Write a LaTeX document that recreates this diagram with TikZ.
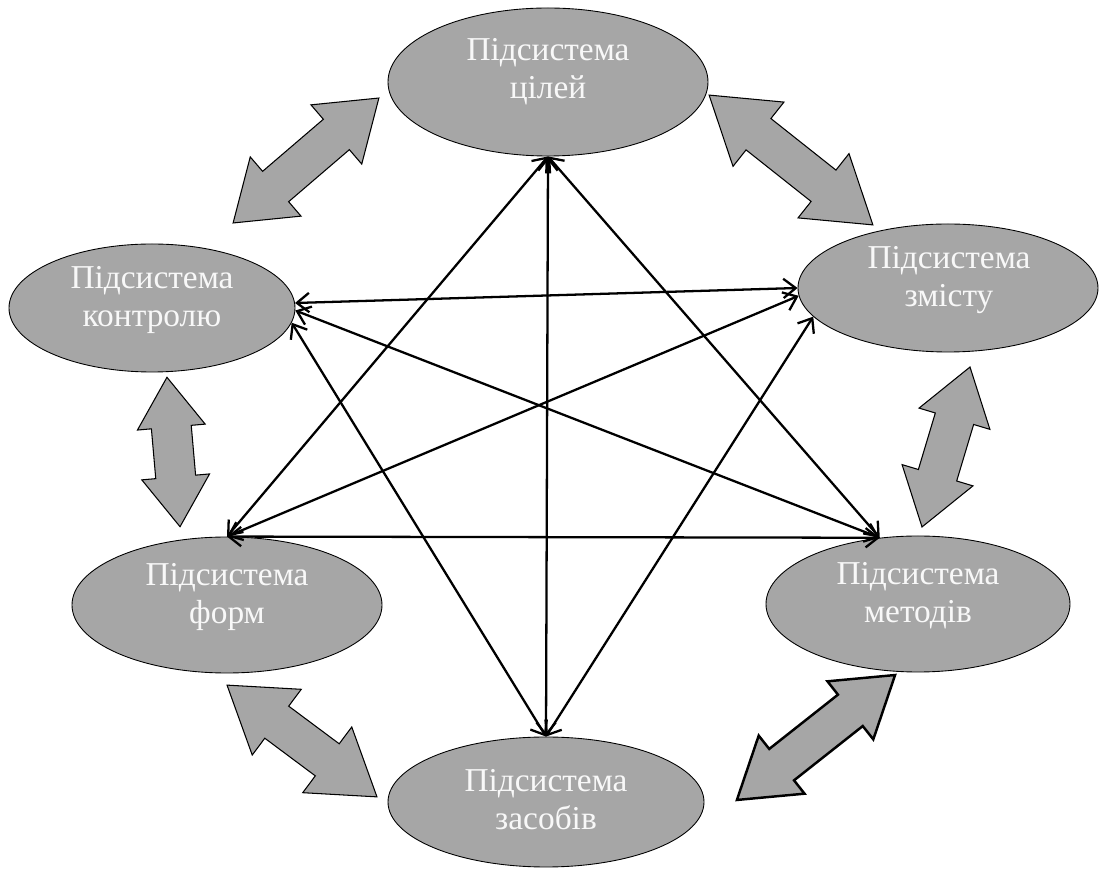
\documentclass[tikz,border=0pt]{standalone}
\usepackage{fontspec}
\setmainfont{Liberation Serif}
\usetikzlibrary{shapes.geometric,arrows.meta}

\definecolor{subfill}{RGB}{166,166,166}
\definecolor{subtext}{RGB}{248,248,248}

\newcommand{\pxu}{0.02cm}
% #2,#3 centre, #4 angle, #5 half length, #6 head length, #7 head half width
\newcommand{\fatarrow}[7][]{%
  \filldraw[fatarrow,#1,shift={(#2,#3)},rotate=#4]
    (-#5,0) -- ({-#5+#6},#7) -- ({-#5+#6},20) -- ({#5-#6},20) -- ({#5-#6},#7)
    -- (#5,0) -- ({#5-#6},-#7) -- ({#5-#6},-20) -- ({-#5+#6},-20) -- ({-#5+#6},-#7) -- cycle;}

\tikzset{
  sub/.style={ellipse, draw=black, line width=0.5pt, fill=subfill, inner sep=0pt},
  lbl/.style={text=subtext, align=center, inner sep=0pt, font=\fontsize{19}{21.5}\selectfont},
  link/.style={black, line width=1.3pt, {Straight Barb[length=7pt,width=11pt]}-{Straight Barb[length=7pt,width=11pt]}},
  fatarrow/.style={fill=subfill, draw=black, line width=0.6pt, line join=miter}
}

\begin{document}
\begin{tikzpicture}[x=\pxu, y=-\pxu]
    \useasboundingbox (0,0) rectangle (1100,874);

    % subsystems
    \node[sub, minimum width=320*\pxu, minimum height=148*\pxu] (goal) at (548,82) {};
    \node[sub, minimum width=300*\pxu, minimum height=128*\pxu] (content) at (948,288) {};
    \node[sub, minimum width=286*\pxu, minimum height=128*\pxu] (control) at (152,308) {};
    \node[sub, minimum width=310*\pxu, minimum height=136*\pxu] (form) at (227,605) {};
    \node[sub, minimum width=304*\pxu, minimum height=136*\pxu] (meth) at (918,604) {};
    \node[sub, minimum width=316*\pxu, minimum height=130*\pxu] (means) at (546,802) {};

    \node[lbl] (goal-t) at (548,72) {Підсистема\\цілей};
    \node[lbl] (content-t) at (949,280) {Підсистема\\змісту};
    \node[lbl] (control-t) at (152,300) {Підсистема\\контролю};
    \node[lbl] (form-t) at (227,597) {Підсистема\\форм};
    \node[lbl] (meth-t) at (918,596) {Підсистема\\методів};
    \node[lbl] (means-t) at (546,800) {Підсистема\\засобів};

    % links
    \draw[link] (goal.south) -- (form.north);
    \draw[link] (goal.south) -- (meth.120);
    \draw[link] (goal.south) -- (means.north);
    \draw[link] (control.2) -- (content.west);
    \draw[link] (control.-1) -- (meth.120);
    \draw[link] (control.-6) -- (means.north);
    \draw[link] (content.183) -- (form.north);
    \draw[link] (content.192) -- (means.north);
    \draw[link] (form.north) -- (meth.120);

    % neighbour arrows
    \fatarrow{306}{160.5}{40.6}{96}{56}{39}
    \fatarrow{791}{160}{-38.4}{104.5}{63}{41}
    \fatarrow{173.5}{452}{-85}{75}{50}{34}
    \fatarrow{946}{447}{73.3}{83.5}{54}{37}
    \fatarrow{302}{741}{-36.7}{93.5}{62}{41}
    \fatarrow[line width=1.4pt]{816}{737.5}{38.3}{100.8}{57}{37}
\end{tikzpicture}
\end{document}
